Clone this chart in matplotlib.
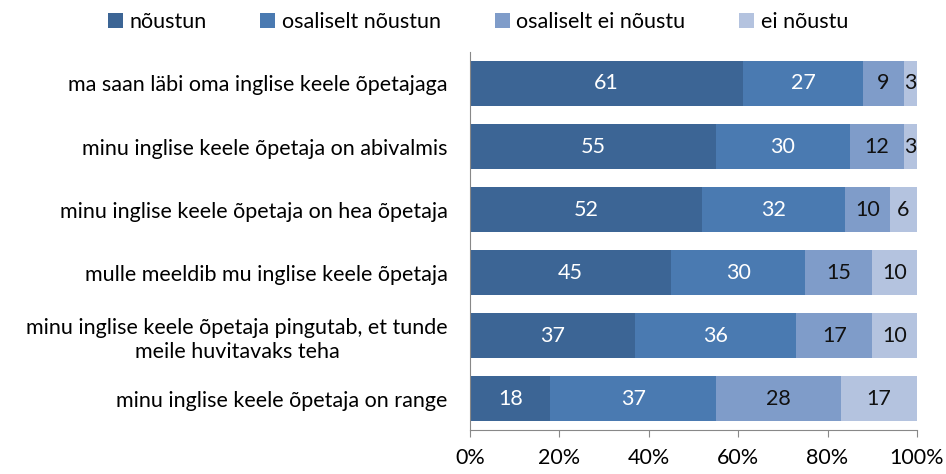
import numpy as np
import matplotlib
matplotlib.use("Agg")
import matplotlib.pyplot as plt

categories = [
    "ma saan läbi oma inglise keele õpetajaga",
    "minu inglise keele õpetaja on abivalmis",
    "minu inglise keele õpetaja on hea õpetaja",
    "mulle meeldib mu inglise keele õpetaja",
    "minu inglise keele õpetaja pingutab, et tunde\nmeile huvitavaks teha",
    "minu inglise keele õpetaja on range",
]
series_names = ["nõustun", "osaliselt nõustun", "osaliselt ei nõustu", "ei nõustu"]
noustun = [61, 55, 52, 45, 37, 18]
osal_noustun = [27, 30, 32, 30, 36, 37]
osal_ei = [9, 12, 10, 15, 17, 28]
ei_noustu = [3, 3, 6, 10, 10, 17]
xticks = [0, 20, 40, 60, 80, 100]

colors = ["#3C6595", "#4A7AB1", "#7F9CC9", "#B4C3DF"]
text_colors = ["white", "white", "#111111", "#111111"]

plt.rcParams["font.family"] = ["Lato", "DejaVu Sans"]
fs = 15.5

fig = plt.figure(figsize=(9.46, 4.74), dpi=100)
ax = fig.add_axes([0.4968, 0.0928, 0.4725, 0.7975])

values = [noustun, osal_noustun, osal_ei, ei_noustu]
y = np.arange(len(categories))
left = np.zeros(len(categories))
for vals, name, col, tc in zip(values, series_names, colors, text_colors):
    vals = np.array(vals, dtype=float)
    bars = ax.barh(y, vals, left=left, height=0.7, color=col, label=name)
    for b, v, l in zip(bars, vals, left):
        ax.text(l + v / 2, b.get_y() + b.get_height() / 2, f"{int(v)}",
                ha="center", va="center", color=tc, fontsize=fs)
    left += vals

ax.set_ylim(len(categories) - 0.5, -0.5)
ax.set_xlim(0, 100)
ax.set_yticks(y)
ax.set_yticklabels(categories, fontsize=fs, ha="right", multialignment="center",
                   linespacing=1.3)
ax.set_xticks(xticks)
ax.set_xticklabels([f"{t}%" for t in xticks], fontsize=fs)
ax.tick_params(axis="y", length=0, pad=16)
ax.tick_params(axis="x", length=5, color="#888888", pad=8)
for s in ["top", "right"]:
    ax.spines[s].set_visible(False)
for s in ["left", "bottom"]:
    ax.spines[s].set_color("#888888")

fig.legend(loc="upper center", bbox_to_anchor=(0.505, 1.015), ncol=4, frameon=False,
           fontsize=fs, handlelength=0.7, handleheight=0.7, handletextpad=0.3,
           columnspacing=2.5)

fig.savefig("out.png", dpi=100)
